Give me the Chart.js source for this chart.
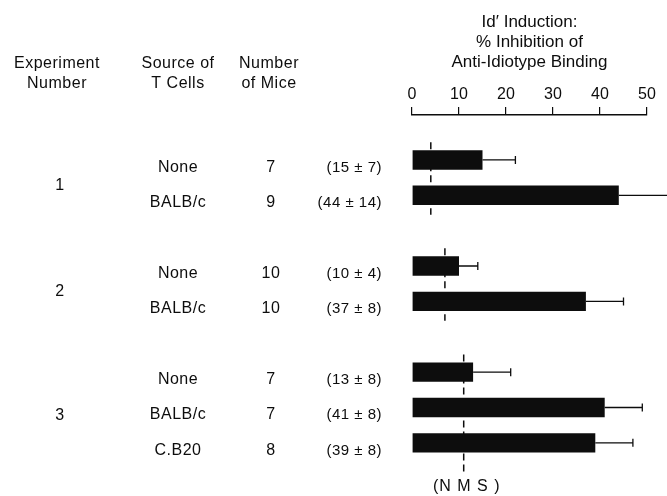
<!DOCTYPE html>
<html>
<head>
<meta charset="utf-8">
<script src="https://cdn.jsdelivr.net/npm/chart.js@4/dist/chart.umd.min.js"></script>
<style>
  html, body { margin: 0; padding: 0; background: #fff; }
  #wrap { width: 667px; height: 496px; }
</style>
</head>
<body>
<div id="wrap"><canvas id="chart"></canvas></div>
<script>
const experiments = ['1', '1', '2', '2', '3', '3', '3'];
const sources = ['None', 'BALB/c', 'None', 'BALB/c', 'None', 'BALB/c', 'C.B20'];
const mice = [7, 9, 10, 10, 7, 7, 8];
const means = [15, 44, 10, 37, 13, 41, 39];
const sds = [7, 14, 4, 8, 8, 8, 8];
// row slot of each bar; empty slots separate the experiments
const rows = [0, 1, 3, 4, 6, 7, 8];
// normal mouse serum level for each experiment
const nmsExperiments = ['1', '2', '3'];
const nmsLevels = [4, 7, 11];
const xTicks = [0, 10, 20, 30, 40, 50];
const axisTitle = ['Id\u2032 Induction:', '% Inhibition of', 'Anti-Idiotype Binding'];

const ink = '#0d0d0d';
const font = "'Liberation Sans', Arial, Helvetica, sans-serif";
Chart.defaults.font.family = font;
Chart.defaults.color = ink;

function rowsOf(exp) {
    return rows.filter((r, i) => experiments[i] === exp);
}

// dashed NMS lines, one per experiment
const nmsDatasets = nmsExperiments.map((exp, k) => {
    const r = rowsOf(exp);
    const last = k === nmsExperiments.length - 1;
    return {
        type: 'line',
        data: [
            { x: nmsLevels[k], y: r[0] - 0.5 },
            { x: nmsLevels[k], y: r[r.length - 1] + (last ? 0.85 : 0.55) }
        ],
        borderColor: ink,
        borderWidth: 1.5,
        borderDash: [7, 4],
        pointRadius: 0,
        order: 2
    };
});

const tablePlugin = {
    id: 'table',
    afterDatasetsDraw(chart) {
        const ctx = chart.ctx;
        const xs = chart.scales.x, ys = chart.scales.y;
        ctx.save();
        ctx.strokeStyle = ink;
        ctx.lineWidth = 1.3;
        means.forEach((m, i) => {
            const cy = ys.getPixelForValue(rows[i]);
            const x0 = xs.getPixelForValue(m);
            const x1 = xs.getPixelForValue(m + sds[i]);
            ctx.beginPath();
            ctx.moveTo(x0, cy);
            ctx.lineTo(x1, cy);
            ctx.moveTo(x1, cy - 4);
            ctx.lineTo(x1, cy + 4);
            ctx.stroke();
        });
        ctx.restore();
    },
    afterDraw(chart) {
        const ctx = chart.ctx;
        const xs = chart.scales.x, ys = chart.scales.y;
        ctx.save();
        ctx.fillStyle = ink;
        ctx.textBaseline = 'middle';
        ctx.textAlign = 'center';
        ctx.letterSpacing = '0.5px';
        ctx.font = '16px ' + font;

        // column headings
        ctx.fillText('Experiment', 57, 64);
        ctx.fillText('Number', 57, 84);
        ctx.fillText('Source of', 178, 64);
        ctx.fillText('T Cells', 178, 84);
        ctx.fillText('Number', 269, 64);
        ctx.fillText('of Mice', 269, 84);

        // experiment numbers, centred on their group of rows
        nmsExperiments.forEach(exp => {
            const r = rowsOf(exp);
            const cy = (ys.getPixelForValue(r[0]) + ys.getPixelForValue(r[r.length - 1])) / 2;
            ctx.fillText(exp, 60, cy + 8);
        });

        rows.forEach((r, i) => {
            const cy = ys.getPixelForValue(r) + 7.5;
            ctx.font = '16px ' + font;
            ctx.textAlign = 'center';
            ctx.fillText(sources[i], 178, cy);
            ctx.fillText(String(mice[i]), 271, cy);
            ctx.font = '15px ' + font;
            ctx.textAlign = 'right';
            ctx.fillText('(' + means[i] + ' \u00b1 ' + sds[i] + ')', 382, cy);
        });

        // NMS label under the last dashed line
        const k = nmsLevels.length - 1;
        ctx.font = '16px ' + font;
        ctx.letterSpacing = '1px';
        ctx.textAlign = 'center';
        ctx.fillText('(N M S )', xs.getPixelForValue(nmsLevels[k]) + 3, 487);
        ctx.restore();
    }
};

new Chart(document.getElementById('chart'), {
    data: {
        datasets: [{
            type: 'bar',
            data: rows.map((r, i) => ({ x: means[i], y: r })),
            backgroundColor: ink,
            borderWidth: 0,
            barPercentage: 0.55,
            categoryPercentage: 1,
            order: 1
        }, ...nmsDatasets]
    },
    options: {
        indexAxis: 'y',
        responsive: true,
        maintainAspectRatio: false,
        animation: false,
        layout: { padding: { left: 412, right: 20, top: 0, bottom: 16 } },
        plugins: {
            legend: { display: false },
            tooltip: { enabled: false }
        },
        scales: {
            x: {
                type: 'linear',
                position: 'top',
                min: xTicks[0],
                max: xTicks[xTicks.length - 1],
                afterFit(axis) { axis.height = 115; },
                ticks: {
                    stepSize: xTicks[1] - xTicks[0],
                    font: { size: 16 },
                    color: ink,
                    padding: 3,
                    maxRotation: 0
                },
                grid: {
                    drawOnChartArea: false,
                    drawTicks: true,
                    tickLength: 8,
                    color: ink,
                    lineWidth: 1.2
                },
                border: { color: ink, width: 1.5 },
                title: {
                    display: true,
                    text: axisTitle,
                    font: { size: 17, lineHeight: 1.18 },
                    color: ink,
                    padding: { top: 12, bottom: 0 }
                }
            },
            y: {
                type: 'linear',
                display: false,
                offset: false,
                reverse: true,
                min: -1.27,
                max: 9.05
            }
        }
    },
    plugins: [tablePlugin]
});
</script>
</body>
</html>
